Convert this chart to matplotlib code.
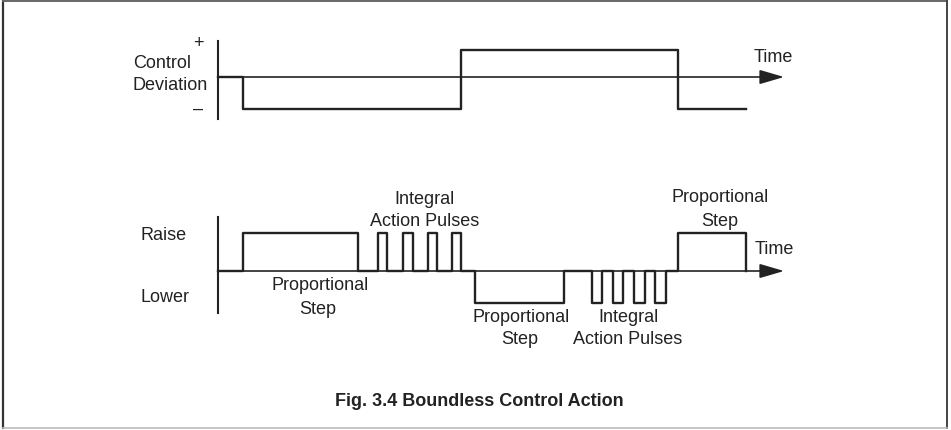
import matplotlib.pyplot as plt

plt.rcParams['font.family'] = ['Liberation Sans', 'DejaVu Sans']

# control deviation (top), switch times and levels
dev_times = [0, 2.5, 24.3, 46.0, 52.8]
dev_levels = [0, -1.2, 1, -1.2, -1.2]

# controller output (bottom): raise = 1, lower = -0.84
out_times = [0, 2.5, 14.0, 16.0, 16.9, 18.5, 19.5, 21.0, 21.9, 23.4, 24.3,
             25.7, 34.6, 37.4, 38.4, 39.5, 40.5, 41.6, 42.7, 43.7, 44.8, 46.0, 52.8]
out_levels = [0, 1, 0, 1, 0, 1, 0, 1, 0, 1, 0,
              -0.84, 0, -0.84, 0, -0.84, 0, -0.84, 0, -0.84, 0, 1, 0]

t_end = 56.6
ink = '#222222'
W, H = 951, 430

fig = plt.figure(figsize=(W / 100, H / 100), dpi=100)

# overlay in pixel coords for frame and labels
bg = fig.add_axes([0, 0, 1, 1])
bg.set_xlim(0, W)
bg.set_ylim(H, 0)
bg.axis('off')
bg.plot([3, 3], [0.5, 428], color='#333333', lw=1.6)
bg.plot([3, 947], [0.8, 0.8], color='#666666', lw=1.4)
bg.plot([947, 947], [0.5, 428], color='#444444', lw=1.4)
bg.plot([3, 947], [428, 428], color='#bbbbbb', lw=1.2)


def px_axes(x0, x1, y0, y1):
    return fig.add_axes([x0 / W, 1 - y1 / H, (x1 - x0) / W, (y1 - y0) / H])


def signal_axes(ax, times, levels, ylim):
    ax.set_xlim(0, t_end)
    ax.set_ylim(*ylim)
    ax.patch.set_alpha(0)
    for s in ['top', 'right', 'bottom']:
        ax.spines[s].set_visible(False)
    ax.spines['left'].set_linewidth(1.5)
    ax.spines['left'].set_color(ink)
    ax.set_xticks([])
    ax.set_yticks([])
    ax.annotate('', xy=(t_end, 0), xytext=(0, 0),
                arrowprops=dict(arrowstyle='-|>,head_length=0.75,head_width=0.22',
                                mutation_scale=20, color=ink, lw=1.2,
                                shrinkA=0, shrinkB=0),
                annotation_clip=False)
    ax.step(times, levels, where='post', color=ink, lw=1.7, clip_on=False)


ax1 = px_axes(218, 784, 41, 119)
signal_axes(ax1, dev_times, dev_levels, (-42 / 27, 36 / 27))

ax2 = px_axes(218, 784, 217, 313)
signal_axes(ax2, out_times, out_levels, (-42 / 38, 54 / 38))

fs = 13
txt = dict(fontsize=fs, color=ink, va='center')
bg.text(198, 43, '+', ha='center', **txt)
bg.text(198, 109, '–', ha='center', **txt)
bg.text(133, 64, 'Control', ha='left', **txt)
bg.text(133, 86, 'Deviation', ha='left', **txt)
bg.text(754, 58, 'Time', ha='left', **txt)

bg.text(141, 236, 'Raise', ha='left', **txt)
bg.text(141, 298, 'Lower', ha='left', **txt)
bg.text(755, 250, 'Time', ha='left', **txt)

labels = [
    (425, 199, 'Integral'), (425, 222, 'Action Pulses'),
    (320, 286, 'Proportional'), (318, 309, 'Step'),
    (521, 317, 'Proportional'), (520, 339, 'Step'),
    (629, 317, 'Integral'), (628, 339, 'Action Pulses'),
    (720, 198, 'Proportional'), (720, 222, 'Step'),
]
for x, y, s in labels:
    bg.text(x, y, s, ha='center', **txt)

bg.text(479, 402, 'Fig. 3.4 Boundless Control Action', ha='center', va='center',
        fontsize=13, fontweight='bold', color=ink)

fig.savefig('out.png', dpi=100)
